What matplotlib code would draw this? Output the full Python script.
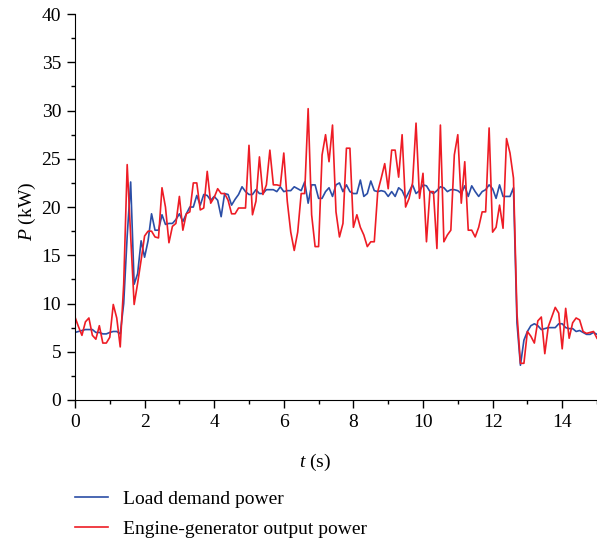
import numpy as np
import matplotlib
matplotlib.use("Agg")
import matplotlib.pyplot as plt
from matplotlib.ticker import MultipleLocator

plt.rcParams['font.family'] = ['Liberation Serif', 'DejaVu Serif']
plt.rcParams['mathtext.fontset'] = 'custom'
plt.rcParams['mathtext.rm'] = 'Liberation Serif'
plt.rcParams['mathtext.it'] = 'Liberation Serif:italic'

# time axis, 0.1 s sampling
t = np.round(np.arange(0, 15.01, 0.1), 1)

load_demand = [
    7.0, 7.1, 7.2, 7.3, 7.3, 7.3, 7.0, 7.0, 6.85, 6.85,
    7.0, 7.1, 7.1, 6.85, 10.0, 17.0, 22.6, 12.0, 13.1, 16.5,
    14.8, 16.5, 19.3, 17.6, 17.6, 19.2, 18.2, 18.3, 18.3, 18.7,
    19.3, 18.5, 19.3, 20.0, 20.0, 21.2, 20.2, 21.3, 21.2, 20.7,
    21.1, 20.7, 19.0, 21.4, 21.3, 20.2, 20.8, 21.3, 22.1, 21.6,
    21.3, 21.3, 21.8, 21.4, 21.4, 21.8, 21.8, 21.8, 21.6, 22.1,
    21.6, 21.7, 21.7, 22.1, 21.9, 21.7, 22.6, 20.4, 22.3, 22.3,
    20.9, 20.9, 21.6, 22.0, 21.1, 22.3, 22.5, 21.6, 22.3, 21.6,
    21.4, 21.4, 22.8, 21.1, 21.4, 22.7, 21.7, 21.6, 21.7, 21.6,
    21.1, 21.6, 21.1, 22.0, 21.7, 20.9, 21.6, 22.3, 21.4, 21.7,
    22.3, 22.2, 21.6, 21.4, 21.7, 22.1, 22.0, 21.6, 21.8, 21.8,
    21.7, 21.4, 22.2, 21.1, 22.2, 21.6, 21.1, 21.6, 21.8, 22.3,
    21.9, 20.9, 22.3, 21.1, 21.1, 21.1, 22.0, 8.0, 3.6, 6.2,
    7.1, 7.7, 7.9, 7.7, 7.3, 7.4, 7.5, 7.5, 7.5, 7.9,
    7.9, 7.5, 7.4, 7.4, 7.1, 7.2, 7.0, 6.8, 6.8, 7.0,
    6.8,
]

engine_output = [
    8.6, 7.6, 6.7, 8.1, 8.5, 6.7, 6.3, 7.7, 5.9, 5.9,
    6.5, 9.9, 8.5, 5.5, 12.0, 24.4, 17.0, 9.9, 12.1, 14.5,
    17.0, 17.5, 17.5, 16.9, 16.8, 22.0, 20.0, 16.3, 18.0, 18.3,
    21.1, 17.6, 19.3, 19.5, 22.5, 22.5, 19.7, 19.9, 23.7, 20.4,
    21.0, 21.9, 21.4, 21.4, 20.7, 19.3, 19.3, 19.9, 19.9, 19.9,
    26.4, 19.2, 20.6, 25.2, 21.3, 22.3, 25.9, 22.3, 22.3, 22.2,
    25.6, 20.6, 17.4, 15.5, 17.4, 21.4, 21.4, 30.2, 19.2, 15.9,
    15.9, 25.4, 27.5, 24.7, 28.5, 19.5, 16.9, 18.3, 26.1, 26.1,
    17.9, 19.2, 17.9, 17.1, 15.9, 16.4, 16.4, 21.6, 23.0, 24.5,
    21.9, 25.9, 25.9, 23.1, 27.5, 20.0, 20.9, 22.5, 28.7, 20.9,
    23.5, 16.4, 21.6, 21.6, 15.7, 28.5, 16.4, 17.1, 17.6, 25.4,
    27.5, 20.4, 24.7, 17.6, 17.6, 16.9, 17.9, 19.5, 19.5, 28.2,
    17.4, 17.9, 20.2, 17.8, 27.1, 25.6, 23.0, 9.0, 3.8, 3.8,
    7.1, 6.6, 5.9, 8.2, 8.6, 4.8, 7.6, 8.6, 9.6, 9.0,
    5.3, 9.5, 6.4, 8.0, 8.5, 8.3, 7.1, 6.9, 7.0, 7.1,
    6.4,
]

fig = plt.figure(figsize=(5.97, 5.43), dpi=100)
ax = fig.add_axes([0.1256, 0.2634, 0.8744, 0.7106])

ax.plot(t, load_demand, color='#2b4ea6', lw=1.2, label='Load demand power')
ax.plot(t, engine_output, color='#ee1c25', lw=1.2, label='Engine-generator output power')

ax.set_xlim(0, 15)
ax.set_ylim(0, 40)
ax.xaxis.set_major_locator(MultipleLocator(2))
ax.xaxis.set_minor_locator(MultipleLocator(1))
ax.yaxis.set_major_locator(MultipleLocator(5))
ax.yaxis.set_minor_locator(MultipleLocator(2.5))
ax.tick_params(which='major', direction='out', length=6, width=1, labelsize=14, pad=4)
ax.tick_params(which='minor', direction='out', length=3, width=1)
ax.spines['top'].set_visible(False)
ax.spines['right'].set_visible(False)

ax.set_xlabel(r'$t$ (s)', fontsize=14)
ax.xaxis.set_label_coords(0.46, -0.134)
ax.set_ylabel(r'$P$ (kW)', fontsize=14)
ax.yaxis.set_label_coords(-0.070, 0.49)

fig.legend(loc='upper left', bbox_to_anchor=(0.112, 0.112), frameon=False,
           fontsize=14, handlelength=1.7, handletextpad=0.8, labelspacing=0.65,
           borderaxespad=0)

fig.savefig('out.png', dpi=100)
